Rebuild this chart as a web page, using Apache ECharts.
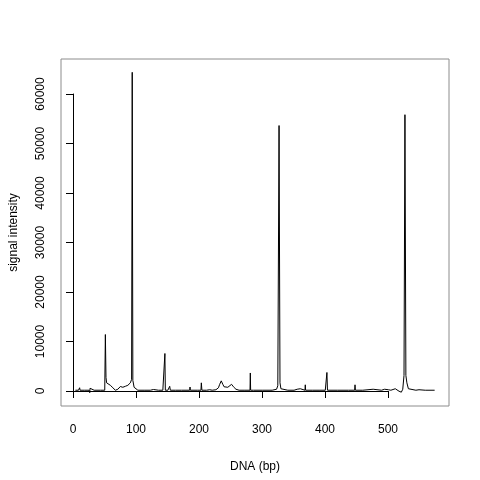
<!DOCTYPE html>
<html>
<head>
<meta charset="utf-8">
<script src="https://cdn.jsdelivr.net/npm/echarts@6/dist/echarts.min.js"></script>
<style>
  html, body { margin: 0; padding: 0; background: #fff; }
  #chart { width: 480px; height: 480px; }
</style>
</head>
<body>
<div id="chart"></div>
<script>
// fragment sizes (bp) and signal
var dnaBp = [
  0, 5, 6.8, 7.5, 15, 22, 23, 23.5, 24, 30, 40, 47, 48, 49, 50, 53, 56, 60, 64, 68,
  72, 73, 76, 80, 84, 88, 90, 91, 92, 94, 96, 100, 110, 120, 125, 126, 133, 133.5, 134, 140,
  143, 143.3, 144, 148, 150, 151, 152, 160, 170, 172, 173, 183, 183.5, 184, 195, 201, 201.6, 202.5, 210, 215,
  218, 219, 225, 229, 231, 233.5, 236, 238, 241, 244, 247, 250, 253, 257, 262, 270, 271, 272, 279.5, 280,
  280.5, 285, 300, 315, 322, 324, 326, 327.5, 329, 332, 340, 350, 355, 356, 360, 361, 367.5, 368, 368.5, 380,
  390, 400, 402, 402.6, 403.5, 420, 437, 437.5, 438, 447, 447.6, 448.2, 460, 476.6, 477, 490, 495, 498, 501, 505,
  512, 513, 518, 521.7, 524, 526, 527.5, 529, 530.6, 533, 536, 545, 550, 551, 560, 575
]
var signal = [
  0, 0, 500, 0, 0, 0, -500, 400, 0, 0, 0, 0, 11300, 2600, 1500, 1300, 1000, 500, 0, 200,
  750, 500, 600, 800, 1000, 1500, 2200, 64500, 2000, 600, 300, 0, 0, 0, 150, 0, 0, 250, 0, 0,
  0, 7450, 0, 0, 200, 800, 0, 0, 0, 200, 0, 0, 650, 0, 0, 0, 1500, 0, 0, 100,
  300, 0, 100, 500, 1200, 1900, 1200, 700, 400, 600, 900, 1200, 700, 200, 0, 0, 300, 0, 0, 3500,
  0, 0, 0, 0, 200, 900, 53700, 1500, 300, 0, 0, 0, 200, 0, 300, 0, 0, 1100, 0, 0,
  0, 0, 200, 3600, 0, 0, 0, 300, 0, 0, 1100, 0, 0, 200, 0, 0, 200, 300, 100, 0,
  300, 0, -200, -400, 200, 3000, 55900, 3000, 1500, 300, 0, 0, 100, 0, 0, 0
]
var xTicks = [0, 500, 100]      // min, max, step
var yTicks = [0, 60000, 10000]

var font = 'Liberation Sans, Arial, sans-serif'
var trace = dnaBp.map(function (b, i) { return [b, signal[i]] })
var plain = function (v) { return String(v) }

var option = {
  backgroundColor: '#fff',
  animation: false,
  grid: [
    // plot region (box)
    { left: 59, right: 31, top: 59, bottom: 74, show: true, borderColor: '#8c8c8c', borderWidth: 1, backgroundColor: 'transparent' },
    // axis region: spans first to last tick, like R's axis()
    { left: 73, right: 92, top: 94, bottom: 89 }
  ],
  xAxis: [
    {
      gridIndex: 0, type: 'value', min: -23, max: 598,
      axisLine: { show: false }, axisTick: { show: false }, axisLabel: { show: false }, splitLine: { show: false },
      name: 'DNA (bp)', nameLocation: 'middle', nameGap: 55,
      nameTextStyle: { color: '#000', fontSize: 12, fontFamily: font }
    },
    {
      gridIndex: 1, type: 'value', min: xTicks[0], max: xTicks[1], interval: xTicks[2],
      position: 'bottom', offset: 15,
      axisLine: { show: true, lineStyle: { color: '#000', width: 1 } },
      axisTick: { show: true, length: 7, lineStyle: { color: '#000' } },
      axisLabel: { color: '#000', fontSize: 12, fontFamily: font, margin: 18, formatter: plain },
      splitLine: { show: false }
    }
  ],
  yAxis: [
    {
      gridIndex: 0, type: 'value', min: -3200, max: 67200,
      axisLine: { show: false }, axisTick: { show: false }, axisLabel: { show: false }, splitLine: { show: false },
      name: 'signal intensity', nameLocation: 'middle', nameGap: 41,
      nameTextStyle: { color: '#000', fontSize: 12, fontFamily: font }
    },
    {
      gridIndex: 1, type: 'value', min: yTicks[0], max: yTicks[1], interval: yTicks[2],
      position: 'left', offset: 14,
      axisLine: { show: true, lineStyle: { color: '#000', width: 1 } },
      axisTick: { show: true, length: 7, lineStyle: { color: '#000' } },
      axisLabel: { color: '#000', fontSize: 12, fontFamily: font, rotate: 90, margin: 12, formatter: plain },
      splitLine: { show: false }
    }
  ],
  series: [{
    type: 'line',
    xAxisIndex: 0,
    yAxisIndex: 0,
    data: trace,
    showSymbol: false,
    symbol: 'none',
    lineStyle: { color: '#000', width: 1 }
  }]
}

var chart = echarts.init(document.getElementById('chart'))
chart.setOption(option, true)
</script>
</body>
</html>
